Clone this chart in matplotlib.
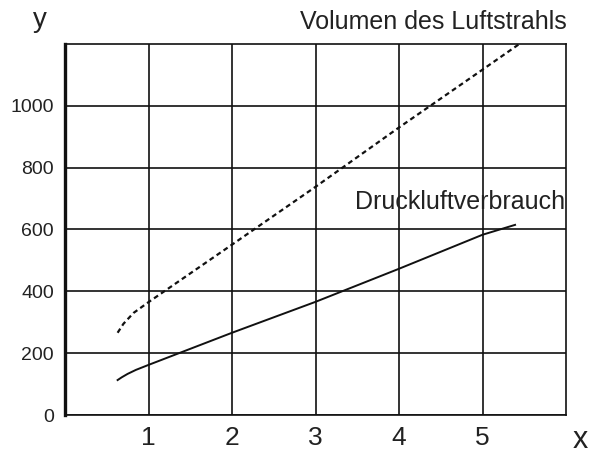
import matplotlib.pyplot as plt

plt.rcParams['font.family'] = ['Liberation Sans', 'DejaVu Sans']

# Druckluftverbrauch (solid)
x_druck = [0.63, 0.68, 0.75, 0.85, 1.0, 2.0, 3.0, 4.0, 5.0, 5.39]
y_druck = [113, 122, 133, 146, 162, 266, 366, 473, 583, 615]

# Volumen des Luftstrahls (dashed)
x_vol = [0.63, 0.7, 0.82, 1.0, 2.0, 3.0, 4.0, 5.0, 5.43]
y_vol = [266, 295, 330, 365, 551, 738, 930, 1117, 1198]

xticks = [1, 2, 3, 4, 5]
yticks = [0, 200, 400, 600, 800, 1000]

fig = plt.figure(figsize=(5.9, 4.54), dpi=100)
ax = fig.add_axes([65/590, 1 - 415/454, 501/590, 371/454])

ax.plot(x_druck, y_druck, color='#111111', lw=1.4)
ax.plot(x_vol, y_vol, color='#111111', lw=1.6, ls=(0, (2.2, 1.6)))

ax.set_xlim(0, 6)
ax.set_ylim(0, 1200)
ax.set_xticks(xticks)
ax.set_yticks(yticks)
ax.grid(True, color='#111111', lw=1.2)
ax.set_axisbelow(True)
ax.tick_params(length=0)
ax.tick_params(axis='y', labelsize=14, pad=8, labelcolor='#222222')
ax.tick_params(axis='x', labelsize=19, pad=8, labelcolor='#222222')
for s in ax.spines.values():
    s.set_linewidth(1.2)
    s.set_color('#111111')
ax.spines['left'].set_linewidth(2.4)

fig.text(40/590, 1 - 20/454, 'y', fontsize=20, ha='center', va='center', color='#222222')
fig.text(580/590, 1 - 440/454, 'x', fontsize=22, ha='center', va='center', color='#222222')
fig.text(567/590, 1 - 22/454, 'Volumen des Luftstrahls', fontsize=18,
         ha='right', va='center', color='#222222')
ax.text(5.99, 690, 'Druckluftverbrauch', fontsize=18, ha='right',
        va='center', color='#222222')

fig.savefig('out.png', dpi=100)
